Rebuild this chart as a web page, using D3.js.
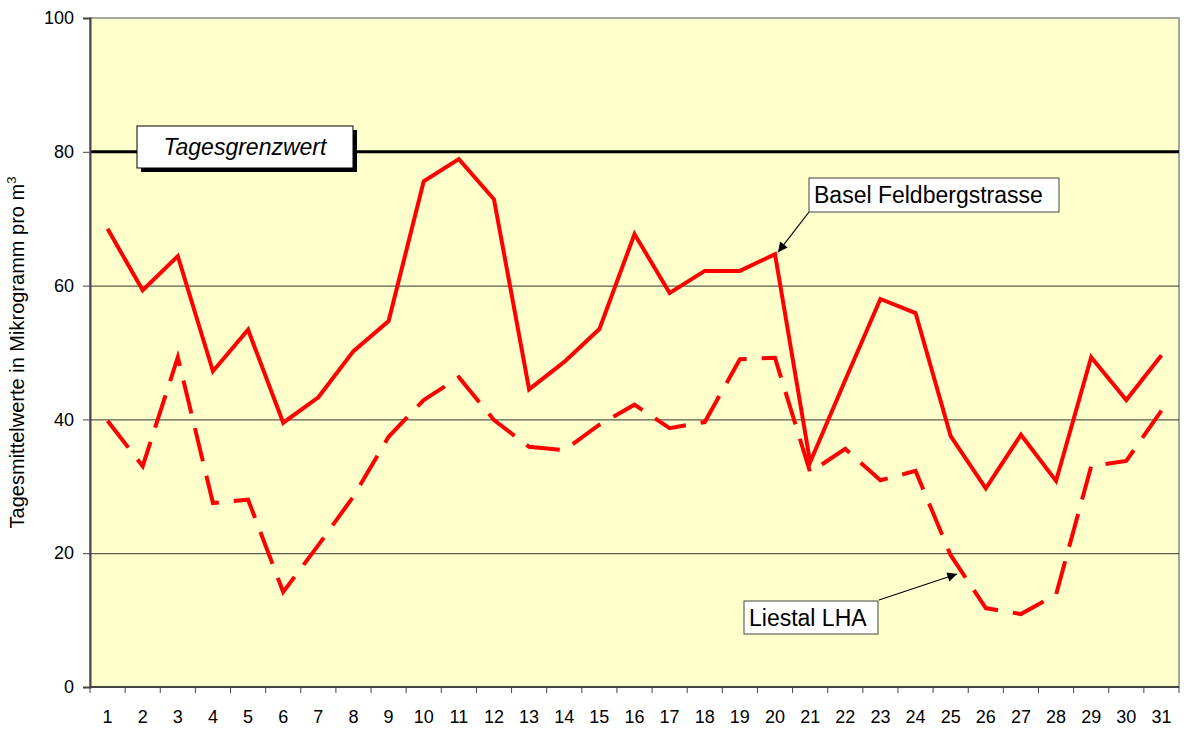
<!DOCTYPE html>
<html>
<head>
<meta charset="utf-8">
<script src="https://cdn.jsdelivr.net/npm/d3@7"></script>
<style>
  body { margin: 0; background: #fff; }
  text { font-family: "Liberation Sans", Arial, sans-serif; }
</style>
</head>
<body>
<script>
const days = d3.range(1, 32);
const basel = [68.5, 59.3, 64.4, 47.2, 53.4, 39.5, 43.3, 50.2, 54.7, 75.6, 78.9, 72.9, 44.5, 48.6, 53.5, 67.7,
  58.9, 62.2, 62.2, 64.7, 33.6, 45.9, 58.0, 55.9, 37.5, 29.7, 37.7, 30.8, 49.3, 42.9, 49.6];
const liestal = [39.8, 33.0, 49.3, 27.5, 28.0, 14.2, 21.2, 28.5, 37.4, 42.9, 46.3, 39.9, 35.9, 35.4, 39.2, 42.2,
  38.7, 39.6, 49.0, 49.2, 32.1, 35.6, 30.9, 32.3, 19.7, 11.8, 10.9, 13.8, 33.0, 33.8, 41.3];
const yTicks = [0, 20, 40, 60, 80, 100];
const limit = 80;

const width = 1184, height = 729;
const margin = { top: 18, right: 5, bottom: 42, left: 90 };

const svg = d3
  .select("body")
  .append("svg")
  .attr("width", width)
  .attr("height", height);

const x = d3
  .scaleBand()
  .domain(days)
  .range([margin.left, width - margin.right]);

const y = d3
  .scaleLinear()
  .domain([0, 100])
  .range([height - margin.bottom, margin.top]);

const cx = (i) => x(days[i]) + x.bandwidth() / 2;

svg
  .append("defs")
  .append("marker")
  .attr("id", "arrow")
  .attr("viewBox", "0 0 10 10")
  .attr("refX", 10)
  .attr("refY", 5)
  .attr("markerWidth", 11)
  .attr("markerHeight", 8)
  .attr("orient", "auto")
  .append("path")
  .attr("d", "M0,0L10,5L0,10z")
  .attr("fill", "#000");

// plot area
svg
  .append("rect")
  .attr("x", margin.left)
  .attr("y", margin.top)
  .attr("width", width - margin.left - margin.right)
  .attr("height", height - margin.top - margin.bottom)
  .attr("fill", "#ffffcc")
  .attr("stroke", "#888")
  .attr("stroke-width", 1.5);

// grid
svg
  .append("g")
  .selectAll("line")
  .data([20, 40, 60])
  .join("line")
  .attr("x1", margin.left)
  .attr("x2", width - margin.right)
  .attr("y1", (d) => y(d) + 0.5)
  .attr("y2", (d) => y(d) + 0.5)
  .attr("stroke", "#333")
  .attr("stroke-width", 1);

// limit line
svg
  .append("line")
  .attr("x1", margin.left)
  .attr("x2", width - margin.right)
  .attr("y1", y(limit))
  .attr("y2", y(limit))
  .attr("stroke", "#000")
  .attr("stroke-width", 3);

// y axis
const yAxis = (g) =>
  g
    .attr("transform", `translate(${margin.left},0)`)
    .call(d3.axisLeft(y).tickValues(yTicks).tickSize(7).tickPadding(9))
    .call((g) => g.select(".domain").attr("stroke", "#444").attr("stroke-width", 2))
    .call((g) => g.selectAll(".tick line").attr("stroke", "#444"))
    .call((g) => g.selectAll("text").attr("font-size", 18).attr("fill", "#000")
      .attr("font-family", "Liberation Sans, Arial, sans-serif"));

// x axis, ticks at category boundaries
const xAxis = (g) => {
  g.attr("transform", `translate(0,${height - margin.bottom})`);
  g.append("line")
    .attr("x1", margin.left)
    .attr("x2", width - margin.right)
    .attr("stroke", "#444")
    .attr("stroke-width", 2);
  g.selectAll(".tk")
    .data(days.concat([32]))
    .join("line")
    .attr("class", "tk")
    .attr("x1", (d) => (d === 32 ? width - margin.right : x(d)))
    .attr("x2", (d) => (d === 32 ? width - margin.right : x(d)))
    .attr("y1", 0)
    .attr("y2", 6)
    .attr("stroke", "#444");
  g.selectAll("text")
    .data(days)
    .join("text")
    .attr("x", (d) => x(d) + x.bandwidth() / 2)
    .attr("y", 36)
    .attr("text-anchor", "middle")
    .attr("font-size", 18)
    .text((d) => d);
};

svg.append("g").call(yAxis);
svg.append("g").call(xAxis);

svg
  .append("text")
  .attr("transform", `translate(24,${(margin.top + height - margin.bottom) / 2}) rotate(-90)`)
  .attr("text-anchor", "middle")
  .attr("font-size", 20)
  .text("Tagesmittelwerte in Mikrogramm pro m")
  .append("tspan")
  .attr("dy", -8)
  .attr("font-size", 13)
  .text("3");

const line = d3
  .line()
  .x((d, i) => cx(i))
  .y((d) => y(d));

svg
  .append("path")
  .datum(liestal)
  .attr("fill", "none")
  .attr("stroke", "#ff0000")
  .attr("stroke-width", 4)
  .attr("stroke-dasharray", "34,15")
  .attr("d", line);

svg
  .append("path")
  .datum(basel)
  .attr("fill", "none")
  .attr("stroke", "#ff0000")
  .attr("stroke-width", 4)
  .attr("stroke-linejoin", "miter")
  .attr("d", line);

// limit label with shadow
const lb = svg.append("g");
lb.append("rect").attr("x", 141).attr("y", 130).attr("width", 216).attr("height", 42).attr("fill", "#000");
lb.append("rect").attr("x", 137).attr("y", 126).attr("width", 216).attr("height", 42)
  .attr("fill", "#fff").attr("stroke", "#000").attr("stroke-width", 1);
lb.append("text").attr("x", 245).attr("y", 155).attr("text-anchor", "middle")
  .attr("font-size", 23).attr("font-style", "italic").text("Tagesgrenzwert");

// series callouts
function callout(bx, by, bw, bh, label, from, to) {
  svg.append("line")
    .attr("x1", from[0]).attr("y1", from[1])
    .attr("x2", to[0]).attr("y2", to[1])
    .attr("stroke", "#000").attr("stroke-width", 1.2)
    .attr("marker-end", "url(#arrow)");
  svg.append("rect").attr("x", bx).attr("y", by).attr("width", bw).attr("height", bh)
    .attr("fill", "#fff").attr("stroke", "#444").attr("stroke-width", 1);
  svg.append("text").attr("x", bx + 5).attr("y", by + bh / 2 + 8)
    .attr("font-size", 23).text(label);
}

callout(809, 178, 250, 34, "Basel Feldbergstrasse", [809, 212], [cx(19) + 3, y(basel[19]) - 2]);
callout(744, 601, 134, 33, "Liestal LHA", [879, 600], [957, 574]);
</script>
</body>
</html>
